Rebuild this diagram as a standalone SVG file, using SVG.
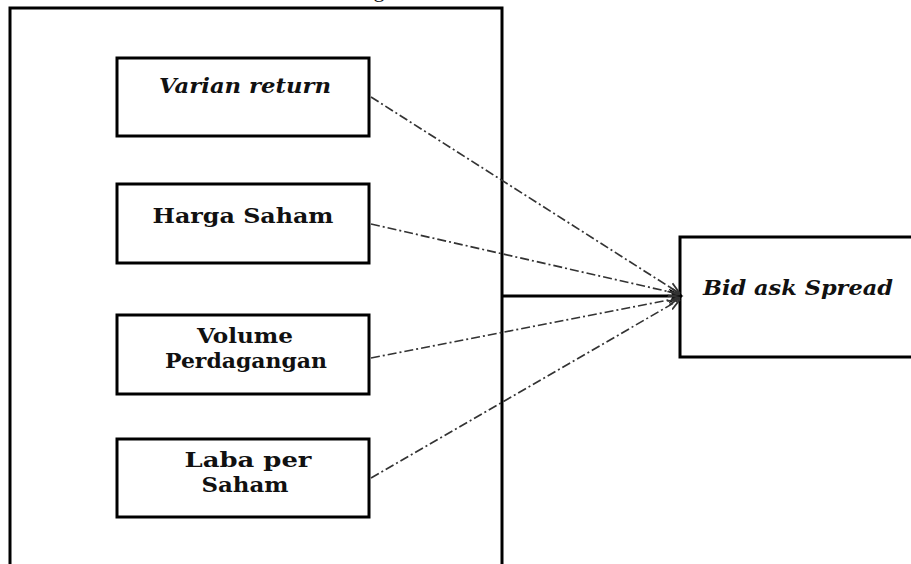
<svg xmlns="http://www.w3.org/2000/svg" width="911" height="564" viewBox="0 0 911 564">
<style>
.box{fill:#fff;stroke:#000;stroke-width:3}
.frame{fill:none;stroke:#000;stroke-width:3}
.lbl{font-family:"DejaVu Serif","Liberation Serif",serif;font-weight:bold;font-size:20px;fill:#111;text-anchor:middle}
.it{font-style:italic}
.dd{fill:none;stroke:#333;stroke-width:1.7;stroke-dasharray:9 3 2 3}
.solid{fill:none;stroke:#000;stroke-width:3}
</style>
<defs>
<marker id="ah" viewBox="0 0 10 10" refX="9" refY="5" markerWidth="5" markerHeight="5" orient="auto" markerUnits="strokeWidth">
<path d="M0,0 L10,5 L0,10 L3,5 Z" fill="#000"/>
</marker>
<marker id="ahs" viewBox="0 0 10 10" refX="9" refY="5" markerWidth="7" markerHeight="7" orient="auto" markerUnits="strokeWidth">
<path d="M0,1 L10,5 L0,9" fill="none" stroke="#333" stroke-width="1.5"/>
</marker>
</defs>
<rect width="911" height="564" fill="#fff"/>
<text x="379" y="-3" font-family="Liberation Serif,serif" font-size="22" fill="#111" text-anchor="middle">g</text>
<g id="frame">
<rect class="frame" x="10" y="8" width="492" height="600"/>
</g>
<g id="varian-return">
<rect class="box" x="117" y="58" width="252" height="78"/>
<text class="lbl it" x="245" y="93" textLength="172" lengthAdjust="spacingAndGlyphs">Varian return</text>
</g>
<g id="harga-saham">
<rect class="box" x="117" y="184" width="252" height="79"/>
<text class="lbl" x="243" y="223" textLength="181" lengthAdjust="spacingAndGlyphs">Harga Saham</text>
</g>
<g id="volume-perdagangan">
<rect class="box" x="117" y="315" width="252" height="79"/>
<text class="lbl" x="245" y="343" textLength="96" lengthAdjust="spacingAndGlyphs">Volume</text>
<text class="lbl" x="246" y="368" textLength="162" lengthAdjust="spacingAndGlyphs">Perdagangan</text>
</g>
<g id="laba-per-saham">
<rect class="box" x="117" y="439" width="252" height="78"/>
<text class="lbl" x="248" y="467" textLength="127" lengthAdjust="spacingAndGlyphs">Laba per</text>
<text class="lbl" x="245" y="492" textLength="87" lengthAdjust="spacingAndGlyphs">Saham</text>
</g>
<g id="bid-ask-spread">
<rect class="box" x="680" y="237" width="260" height="120"/>
<text class="lbl it" x="798" y="295" textLength="190" lengthAdjust="spacingAndGlyphs">Bid ask Spread</text>
</g>
<g id="connectors">
<line class="solid" x1="502" y1="296" x2="682" y2="296" marker-end="url(#ah)"/>
<line class="dd" x1="371" y1="97" x2="679" y2="293" marker-end="url(#ahs)"/>
<line class="dd" x1="371" y1="224" x2="679" y2="294" marker-end="url(#ahs)"/>
<line class="dd" x1="371" y1="358" x2="679" y2="298" marker-end="url(#ahs)"/>
<line class="dd" x1="371" y1="478" x2="679" y2="300" marker-end="url(#ahs)"/>
</g>
</svg>
